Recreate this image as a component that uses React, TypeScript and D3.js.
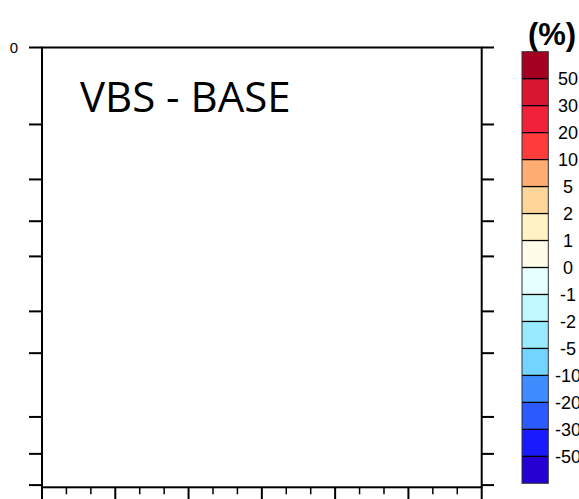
import React from "react";
import * as d3 from "d3";

const W = 579;
const H = 499;

// data
const titleText = "VBS - BASE";
const unitLabel = "(%)";
const xMajorTicks = [0, 30, 60, 90, 120, 150, 180];
const xMinorTicks = [10, 20, 40, 50, 70, 80, 100, 110, 130, 140, 160, 170];
const yTicks = [0, 17.5, 30, 39.5, 47.5, 60, 69.5, 84, 92.4, 99.5];
const yTickLabels = ["0"];
const cbLabels = ["50", "30", "20", "10", "5", "2", "1", "0", "-1", "-2", "-5", "-10", "-20", "-30", "-50"];
const cbColors = [
  "#a50021", "#d9162f", "#f2213a", "#ff3c3c",
  "#ffad72", "#ffd699", "#fff3c3", "#fffde8",
  "#e6ffff", "#bff8ff", "#99eaff", "#73d5ff",
  "#3f8cff", "#2b5bff", "#1a1aff", "#2500d2",
];

export default function App() {
  const plot = { left: 42, right: 481.7, top: 47.5, bottom: 487.3 };
  const x = d3.scaleLinear().domain([0, 180]).range([plot.left, plot.right]);
  const y = d3.scaleLinear().domain([0, 100]).range([plot.top, plot.bottom]);

  const cb = { x: 522, w: 26.3, top: 51.7, bottom: 483.3 };
  const cbScale = d3.scaleBand<number>()
    .domain(d3.range(cbColors.length))
    .range([cb.top, cb.bottom])
    .paddingInner(0);
  const bw = cbScale.bandwidth();

  return (
    <svg width={W} height={H} style={{ position: "absolute", left: 0, top: 0, background: "#fff" }}>
      {/* title */}
      <text x={80} y={111.5} fontFamily="'Open Sans', sans-serif" fontSize={42} fill="#000">
        {titleText}
      </text>
      {/* unit */}
      <text x={552} y={45} textAnchor="middle" fontFamily="'Liberation Sans', Arial, sans-serif" fontWeight="bold" fontSize={31} fill="#000">
        {unitLabel}
      </text>

      {/* y ticks left & right */}
      {yTicks.map((t, i) => (
        <g key={"yt" + i}>
          <line x1={29} x2={plot.left} y1={y(t)} y2={y(t)} stroke="#000" strokeWidth={2} />
          <line x1={plot.right} x2={494} y1={y(t)} y2={y(t)} stroke="#000" strokeWidth={2} />
        </g>
      ))}
      {yTickLabels.map((l, i) => (
        <text key={"yl" + i} x={14} y={y(yTicks[i])} dy="0.35em" textAnchor="middle"
          fontFamily="'Liberation Sans', Arial, sans-serif" fontSize={15} fill="#000">{l}</text>
      ))}

      {/* x ticks */}
      {xMajorTicks.map((t, i) => (
        <line key={"xM" + i} x1={x(t)} x2={x(t)} y1={plot.bottom} y2={H + 2} stroke="#000" strokeWidth={2} />
      ))}
      {xMinorTicks.map((t, i) => (
        <line key={"xm" + i} x1={x(t)} x2={x(t)} y1={plot.bottom} y2={plot.bottom + 7} stroke="#000" strokeWidth={1.5} />
      ))}

      {/* frame */}
      <rect x={plot.left} y={plot.top} width={plot.right - plot.left} height={plot.bottom - plot.top}
        fill="none" stroke="#000" strokeWidth={2} />

      {/* colorbar */}
      {cbColors.map((c, i) => (
        <rect key={"cb" + i} x={cb.x} y={cbScale(i)!} width={cb.w} height={bw} fill={c} stroke="none" />
      ))}
      {cbLabels.map((l, i) => (
        <g key={"cbl" + i}>
          <line x1={cb.x} x2={cb.x + cb.w} y1={cbScale(i + 1)!} y2={cbScale(i + 1)!} stroke="#000" strokeWidth={1.3} />
          <text x={568} y={cbScale(i + 1)!} dy="0.36em" textAnchor="middle"
            fontFamily="'Liberation Sans', Arial, sans-serif" fontSize={18} fill="#000">{l}</text>
        </g>
      ))}
      <rect x={cb.x} y={cb.top} width={cb.w} height={cb.bottom - cb.top} fill="none" stroke="#333" strokeWidth={1} />
    </svg>
  );
}
